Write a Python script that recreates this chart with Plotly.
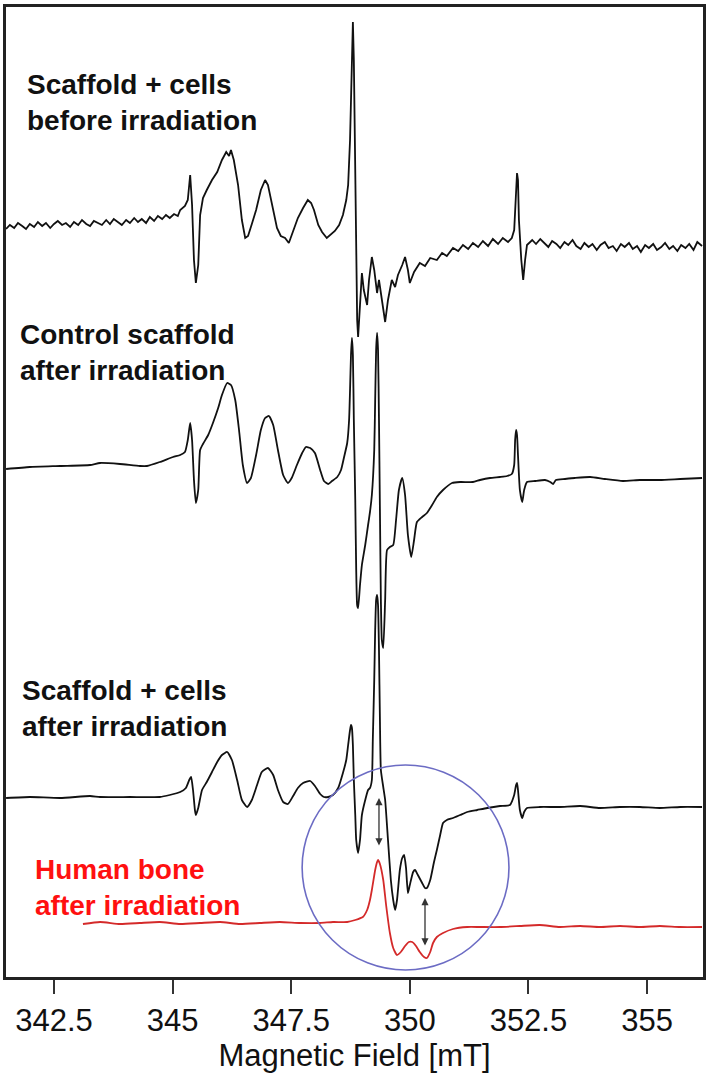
import plotly.graph_objects as go

# Scaffold + cells before irradiation
field_a = [341.49, 341.57, 341.66, 341.74, 341.83, 341.91, 341.99, 342.08, 342.16, 342.25,
           342.33, 342.42, 342.50, 342.58, 342.67, 342.75, 342.84, 342.92, 343.01, 343.09,
           343.18, 343.26, 343.34, 343.43, 343.51, 343.60, 343.68, 343.76, 343.85, 343.93,
           344.02, 344.10, 344.19, 344.27, 344.35, 344.44, 344.52, 344.61, 344.69, 344.78,
           344.86, 344.94, 345.03, 345.11, 345.16,
           345.26, 345.32, 345.37, 345.41, 345.45, 345.49, 345.54, 345.58, 345.64, 345.72,
           345.83, 345.94, 346.04, 346.13, 346.19, 346.23, 346.29, 346.38, 346.46, 346.53,
           346.59, 346.67, 346.76, 346.86, 346.95, 347.01, 347.10, 347.20, 347.28, 347.37,
           347.45, 347.54, 347.64, 347.75, 347.85, 347.92, 347.98, 348.07, 348.15, 348.25,
           348.34, 348.42, 348.51, 348.59, 348.66, 348.70, 348.74, 348.76, 348.78, 348.80,
           348.82, 348.85, 348.87, 348.89, 348.91, 348.95, 348.99, 349.03, 349.10, 349.14,
           349.20, 349.25, 349.31, 349.35, 349.41, 349.48, 349.54, 349.62, 349.69, 349.75,
           349.84, 349.90, 349.96, 350.00, 350.09, 350.21, 350.32, 350.43, 350.57, 350.68,
           350.78, 350.91, 351.02, 351.12, 351.23, 351.33, 351.44, 351.54, 351.65, 351.75,
           351.86, 351.96, 352.07, 352.15, 352.20, 352.24, 352.26, 352.28, 352.30, 352.35,
           352.39, 352.43, 352.47,
           352.58, 352.66, 352.75, 352.83, 352.92, 353.00, 353.09, 353.17, 353.26, 353.34,
           353.43, 353.51, 353.60, 353.68, 353.77, 353.85, 353.94, 354.02, 354.11, 354.19,
           354.28, 354.36, 354.45, 354.53, 354.62, 354.70, 354.79, 354.87, 354.96, 355.04,
           355.13, 355.21, 355.30, 355.38, 355.47, 355.55, 355.64, 355.72, 355.81, 355.89,
           355.98, 356.06, 356.16]
signal_a = [-1, 3, 0, 5, 2, -1, 4, 1, 6, 2,
            5, 0, 4, 7, 3, 5, 1, 6, 3, 8,
            4, 2, 7, 5, 3, 8, 4, 9, 6, 3,
            8, 5, 10, 6, 9, 5, 11, 7, 12, 9,
            13, 10, 14, 12, 18,
            22, 28, 53, 23, -32, -55, -37, 13, 30, 38,
            48, 56, 68, 76, 72, 78, 68, 43, 8, -10,
            -8, 4, 18, 38, 48, 43, 23, 0, -8, -10,
            -15, -4, 10, 20, 28, 25, 18, 3, -4, -10,
            -6, -3, 3, 13, 28, 43, 88, 138, 188, 206,
            168, 68, -32, -92, -109, -72, -45, -62, -77, -52,
            -29, -42, -65, -52, -72, -94, -72, -52, -59, -47,
            -37, -29, -42, -55, -44, -35, -38, -30, -32, -25,
            -28, -20, -23, -17, -21, -15, -19, -13, -18, -11,
            -16, -10, -14, -10, -2, 38, 55, 48, 8, -32,
            -52, -32, -17,
            -12, -16, -11, -15, -19, -13, -16, -20, -14, -17,
            -12, -18, -21, -15, -19, -16, -22, -17, -14, -20,
            -18, -23, -16, -19, -15, -21, -18, -24, -17, -20,
            -16, -22, -19, -15, -21, -18, -23, -17, -20, -16,
            -22, -14, -18]

# Control scaffold after irradiation
field_b = [341.49, 341.99, 342.63, 343.26, 343.47, 343.89, 344.31, 344.46, 344.73, 345.01,
           345.16, 345.26, 345.32, 345.37, 345.41, 345.45, 345.49, 345.54, 345.58, 345.64,
           345.75, 345.85, 345.96, 346.04, 346.15, 346.23, 346.32, 346.40, 346.48, 346.57,
           346.65, 346.76, 346.86, 346.95, 347.03, 347.12, 347.22, 347.33, 347.43, 347.51,
           347.62, 347.73, 347.81, 347.90, 348.00, 348.11, 348.19, 348.28, 348.36, 348.47,
           348.55, 348.61, 348.68, 348.72, 348.74, 348.76, 348.78, 348.80, 348.82, 348.85,
           348.87, 348.89, 348.91, 348.95, 348.99, 349.06, 349.12, 349.16, 349.20, 349.25,
           349.27, 349.29, 349.31, 349.33, 349.35, 349.37, 349.39, 349.41, 349.44, 349.48,
           349.52, 349.58, 349.65, 349.71, 349.77, 349.84, 349.90, 349.96, 350.03, 350.09,
           350.15, 350.26, 350.36, 350.47, 350.57, 350.70, 350.89, 351.06, 351.33, 351.48,
           351.69, 351.90, 352.05, 352.15, 352.20, 352.22, 352.24, 352.26, 352.28, 352.32,
           352.37, 352.41, 352.47, 352.64, 352.85, 352.96, 353.02, 353.08, 353.27, 353.48,
           353.80, 354.11, 354.49, 354.85, 355.27, 355.70, 356.16]
signal_b = [-1, 1, 2, 3, 5, 4, 2, 2, 6, 11,
            13, 16, 28, 45, 28, -12, -35, -22, 18, 24,
            33, 45, 60, 73, 85, 83, 68, 38, 3, -15,
            -10, 13, 38, 50, 52, 43, 18, -7, -15, -10,
            3, 15, 21, 20, 15, -2, -13, -16, -13, -9,
            -2, 10, 25, 48, 78, 113, 130, 113, 48, -32,
            -102, -137, -140, -117, -97, -77, -57, -44, -27, 18,
            68, 118, 135, 118, 48, -42, -132, -172, -180, -132,
            -82, -79, -77, -52, -22, -10, -27, -67, -89, -72,
            -54, -49, -45, -37, -29, -22, -15, -14, -14, -12,
            -10, -9, -8, -6, 3, 28, 38, 33, 13, -22,
            -34, -22, -14, -13, -12, -14, -16, -12, -11, -10,
            -9, -11, -13, -12, -12, -11, -10]

# Scaffold + cells after irradiation
field_c = [341.49, 341.99, 342.63, 343.26, 343.47, 344.10, 344.73, 344.94, 345.16, 345.28,
           345.35, 345.39, 345.43, 345.47, 345.49, 345.54, 345.62, 345.72, 345.83, 345.94,
           346.04, 346.15, 346.25, 346.36, 346.46, 346.57, 346.67, 346.78, 346.88, 347.01,
           347.12, 347.22, 347.33, 347.43, 347.54, 347.64, 347.75, 347.90, 348.00, 348.11,
           348.19, 348.28, 348.38, 348.49, 348.59, 348.66, 348.70, 348.74, 348.76, 348.78,
           348.80, 348.82, 348.85, 348.87, 348.91, 348.95, 348.99, 349.06, 349.12, 349.16,
           349.20, 349.22, 349.25, 349.27, 349.29, 349.31, 349.33, 349.35, 349.37, 349.39,
           349.44, 349.48, 349.54, 349.60, 349.65, 349.69, 349.73, 349.79, 349.84, 349.88,
           349.92, 349.96, 350.00, 350.07, 350.11, 350.17, 350.26, 350.32, 350.36, 350.43,
           350.51, 350.57, 350.64, 350.70, 350.78, 350.91, 351.06, 351.21, 351.42, 351.63,
           351.90, 352.11, 352.20, 352.24, 352.26, 352.28, 352.32, 352.37, 352.41, 352.47,
           352.74, 353.16, 353.59, 354.01, 354.43, 354.85, 355.27, 355.70, 356.16]
signal_c = [0, 1, 0, 2, 1, 1, 1, 3, 6, 10,
            18, 21, 8, -12, -17, -10, 8, 16, 26, 36,
            43, 46, 38, 18, -2, -9, -2, 13, 26, 30,
            23, 8, -4, -6, 2, 10, 15, 17, 12, 4,
            1, 1, 3, 10, 25, 38, 53, 68, 73, 70,
            53, 18, -17, -42, -55, -42, -17, -2, 8, 10,
            18, 58, 118, 168, 198, 203, 193, 148, 78, 28,
            11, -2, -42, -82, -102, -112, -102, -72, -60, -57,
            -70, -95, -87, -74, -72, -77, -85, -90, -90, -82,
            -64, -52, -37, -25, -22, -20, -17, -14, -12, -10,
            -8, -7, 3, 13, 15, 8, -12, -20, -14, -10,
            -9, -9, -8, -10, -9, -9, -10, -9, -9]

# Human bone after irradiation
field_d = [343.11, 343.47, 343.89, 344.31, 344.73, 345.16, 345.58, 346.00, 346.42, 346.84,
           347.26, 347.69, 348.11, 348.38, 348.68, 348.85, 349.01, 349.10, 349.16, 349.20,
           349.27, 349.31, 349.33, 349.37, 349.44, 349.50, 349.58, 349.65, 349.73, 349.81,
           349.90, 349.98, 350.05, 350.13, 350.21, 350.30, 350.36, 350.43, 350.49, 350.57,
           350.70, 350.91, 351.21, 351.48, 351.90, 352.32, 352.74, 353.16, 353.59, 354.01,
           354.43, 354.85, 355.27, 355.70, 356.16]
signal_d = [-1, 1, -1, 0, 1, -1, 0, 1, -1, 0,
            1, 0, 0, 1, 1, 3, 6, 13, 23, 33,
            53, 61, 63, 59, 43, 18, -10, -25, -32, -29,
            -23, -19, -19, -23, -29, -34, -35, -29, -20, -14,
            -10, -6, -4, -4, -4, -3, -2, -4, -3, -4,
            -3, -4, -3, -4, -4]

# vertical offsets used to stack the spectra
offsets = [749, 509, 179, 54]
colors = ["#111111", "#111111", "#111111", "#d42a2a"]
shapes = ["linear", "spline", "spline", "spline"]

labels = ["Scaffold + cells<br>before irradiation",
          "Control scaffold<br>after irradiation",
          "Scaffold + cells<br>after irradiation",
          "Human bone<br>after irradiation"]
label_pos = [(341.89, 875), (341.74, 625), (341.78, 269), (342.06, 90)]
label_col = ["#111111", "#111111", "#111111", "#ff1010"]

tick_vals = [342.5, 345, 347.5, 350, 352.5, 355]

fig = go.Figure()
spectra = [(field_a, signal_a), (field_b, signal_b), (field_c, signal_c), (field_d, signal_d)]
for (field, sig), off, col, shp in zip(spectra, offsets, colors, shapes):
    fig.add_trace(go.Scatter(x=field, y=[s + off for s in sig], mode="lines",
                             line=dict(color=col, width=1.8, shape=shp, smoothing=0.5),
                             showlegend=False))

for txt, (lx, ly), c in zip(labels, label_pos, label_col):
    fig.add_annotation(x=lx, y=ly, text="<b>" + txt + "</b>", showarrow=False,
                       xanchor="left", yanchor="middle", align="left",
                       font=dict(family="Liberation Sans, Arial", size=28, color=c))

# highlighted region
fig.add_shape(type="circle", xref="x", yref="y", x0=347.73, x1=352.09, y0=7, y1=212,
              line=dict(color="rgb(108,108,196)", width=1.6))

# double headed arrows
for ax_, y_lo, y_hi in [(349.35, 130, 179), (350.32, 30, 79)]:
    fig.add_annotation(x=ax_, y=y_hi, ax=ax_, ay=y_lo, xref="x", yref="y", axref="x", ayref="y",
                       text="", showarrow=True, arrowhead=2, arrowside="end+start",
                       arrowsize=1.1, arrowwidth=1.3, arrowcolor="#333333")

fig.update_xaxes(range=[341.488, 356.18], tickvals=tick_vals,
                 ticktext=[f"{t:g}" for t in tick_vals],
                 ticks="outside", ticklen=14, tickwidth=2, tickcolor="#333333",
                 showline=True, linecolor="#222222", linewidth=2.5, mirror=True,
                 showgrid=False, zeroline=False, automargin=False,
                 tickfont=dict(family="Liberation Sans", size=31, color="#111111"),
                 title=dict(text="Magnetic Field [mT]", standoff=8,
                            font=dict(family="Liberation Sans", size=31, color="#111111")))
fig.update_yaxes(range=[0, 970], showticklabels=False, ticks="",
                 showline=True, linecolor="#222222", linewidth=2.5, mirror=True,
                 showgrid=False, zeroline=False, automargin=False)

fig.update_layout(width=708, height=1081, plot_bgcolor="white", paper_bgcolor="white",
                  margin=dict(l=6, r=5, t=7, b=104))

# drop the default page margin so the figure sits at the window's corner
fig.write_html("out.html", config={"displayModeBar": False},
               post_script="document.body.style.margin='0px';")
